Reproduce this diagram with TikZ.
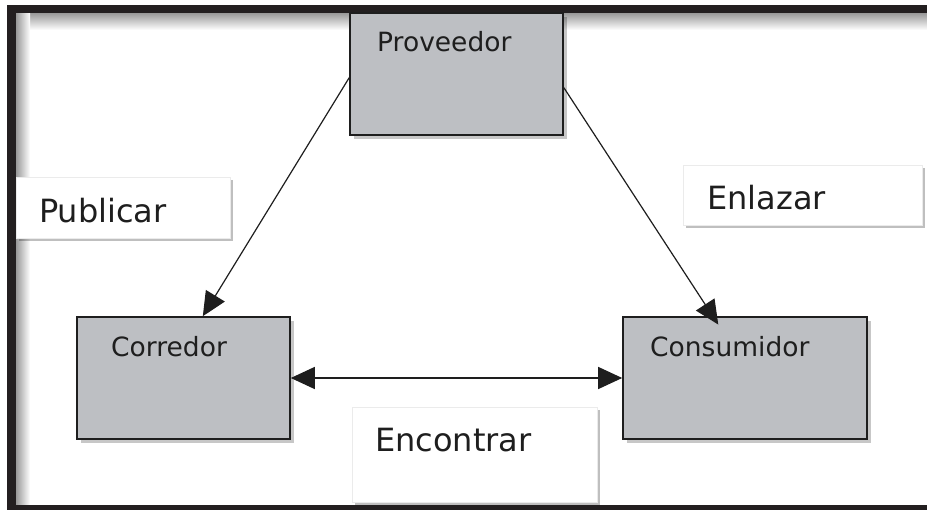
\documentclass[tikz,border=0pt]{standalone}
\usepackage{fontspec}
\setmainfont{DejaVu Sans}
\usetikzlibrary{arrows.meta,shadows,calc}
\definecolor{boxgray}{HTML}{BDBFC3}
\definecolor{ink}{HTML}{1E1E1E}
\definecolor{framecol}{HTML}{231F20}
\begin{document}
\begin{tikzpicture}[x=1pt,y=-1pt,
  entity/.style={draw=ink, line width=1.6pt, fill=boxgray, inner sep=0pt,
    drop shadow={shadow xshift=4pt, shadow yshift=-4pt, fill=black, opacity=0.22}},
  tagbox/.style={fill=white, draw=black!8, line width=0.6pt, inner sep=0pt,
    drop shadow={shadow xshift=3pt, shadow yshift=-3pt, fill=black, opacity=0.25}},
  boxtext/.style={font=\fontsize{26.5}{30}\selectfont, text=ink, anchor=base west, inner sep=0pt},
  tagtext/.style={font=\fontsize{32}{36}\selectfont, text=ink, anchor=base west, inner sep=0pt},
  conn/.style={draw=ink, line width=1.2pt, -{Triangle[length=24pt,width=22pt]}},
  conn2/.style={draw=ink, line width=1.2pt, {Triangle[length=24pt,width=22pt]}-{Triangle[length=24pt,width=22pt]}}]
  % canvas
  \fill[white] (0,0) rectangle (927,510);
  \useasboundingbox (0,0) rectangle (927,510);
  % inner soft shading along frame
  \shade[top color=black!40, bottom color=white] (16,13) rectangle (927,30);
  \shade[left color=black!40, right color=white] (16,13) rectangle (30,505);
  % frame
  \fill[framecol] (7,5) rectangle (927,13);
  \fill[framecol] (7,5) rectangle (16,510);
  \fill[framecol] (7,505) rectangle (927,510);

  % label boxes
  \node[tagbox, minimum width=214pt, minimum height=61pt] (pubbox) at (123,207.5) {};
  \node[tagtext] (pubtxt) at (39,223) {Publicar};
  \node[tagbox, minimum width=239pt, minimum height=60pt] (enlbox) at (802.5,195) {};
  \node[tagtext] (enltxt) at (707,210) {Enlazar};
  \node[tagbox, minimum width=245pt, minimum height=95pt] (encbox) at (474.5,454.5) {};
  \node[tagtext] (enctxt) at (375,452) {Encontrar};

  % entity boxes
  \node[entity, minimum width=213pt, minimum height=122pt] (prov) at (456.5,74) {};
  \node[boxtext] (provt) at (377,52) {Proveedor};
  \node[entity, minimum width=213pt, minimum height=122pt] (corr) at (183.5,378) {};
  \node[boxtext] (corrt) at (111,357) {Corredor};
  \node[entity, minimum width=244pt, minimum height=122pt] (cons) at (745,378) {};
  \node[boxtext] (const) at (650,357) {Consumidor};

  % connectors
  \draw[conn] ($(prov.north west)!0.53!(prov.south west)$) -- ($(corr.north west)!0.59!(corr.north east)$);
  \draw[conn, shorten >=-10pt] ($(prov.north east)!0.61!(prov.south east)$) -- ($(cons.north west)!0.369!(cons.north east)$);
  \draw[conn2] (corr.east) -- (cons.west);
\end{tikzpicture}
\end{document}
